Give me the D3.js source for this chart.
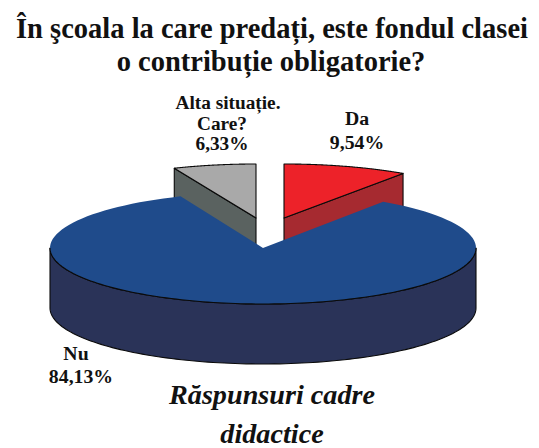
<!DOCTYPE html>
<html><head><meta charset="utf-8">
<style>html,body{margin:0;padding:0;background:#fff}svg{display:block}text{font-family:"Liberation Serif",serif;font-weight:bold;fill:#111;text-anchor:middle}</style>
<script src="https://cdn.jsdelivr.net/npm/d3@7/dist/d3.min.js"></script>
</head><body><svg id="c" width="539" height="448"></svg>
<script>
const categories = ["Da", "Nu", "Alta situație. Care?"];
const values = [9.54, 84.13, 6.33];
const valueLabels = ["9,54%", "84,13%", "6,33%"];
const topColors = ["#ed2229", "#1f4b8b", "#a9a9a9"];
const sideColors = ["#a62a30", "#2a3358", "#5a6260"];
const titleLines = ["În şcoala la care predați, este fondul clasei", "o contribuție obligatorie?"];
const captionLines = ["Răspunsuri cadre", "didactice"];

const svg = d3.select("#c");
const arcs = d3.pie().sort(null).value(d => d)(values);
const rx = 213, ry = 56, depth = 60;
const centers = [[284, 218], [263, 248], [256, 218]];
const radii = [[211, 54], [rx, ry], [211, 54]];
const pt = (i, a, dy = 0) => [centers[i][0] + radii[i][0] * Math.sin(a), centers[i][1] - radii[i][1] * Math.cos(a) + dy];
const line = d3.line();
const sample = (a0, a1) => d3.range(0, 121).map(k => a0 + (a1 - a0) * k / 120);

function sector(i) {
  const a = arcs[i];
  const outer = sample(a.startAngle, a.endAngle).map(t => pt(i, t));
  return line([centers[i], ...outer]) + "Z";
}
function radial(i, ang) {
  const p = pt(i, ang);
  return line([centers[i], p, [p[0], p[1] + depth], [centers[i][0], centers[i][1] + depth]]) + "Z";
}
const stroke = { stroke: "#0a0a0a", "stroke-width": 1.1, "stroke-linejoin": "round" };
function draw(d, fill) {
  const s = svg.append("path").attr("d", d).attr("fill", fill);
  Object.entries(stroke).forEach(([k, v]) => s.attr(k, v));
}
draw(radial(0, arcs[0].endAngle), sideColors[0]);
draw(sector(0), topColors[0]);
draw(radial(2, arcs[2].startAngle), sideColors[2]);
draw(sector(2), topColors[2]);
const wallTop = sample(Math.PI / 2, 3 * Math.PI / 2).map(t => pt(1, t));
const wallBottom = wallTop.slice().reverse().map(p => [p[0], p[1] + depth]);
draw(line([...wallTop, ...wallBottom]) + "Z", sideColors[1]);
svg.append("path").attr("d", sector(1)).attr("fill", topColors[1]);
svg.append("path").attr("d", line(wallTop)).attr("fill", "none").attr("stroke", "#0a0a0a").attr("stroke-width", 1.1);

function label(lines, xs, ys, size, style) {
  const e = svg.append("text").attr("font-size", size);
  if (style) e.attr("font-style", style);
  lines.forEach((t, i) => e.append("tspan").attr("x", xs[i]).attr("y", ys[i]).text(t));
}
label(titleLines, [272, 271], [38, 71], 28.5);
label(["Alta situație.", "Care?", valueLabels[2]], [228, 222, 222], [109, 130, 150], 19.3);
label([categories[0], valueLabels[0]], [357, 357], [125, 149], 19.8);
label([categories[1], valueLabels[1]], [76, 81], [360, 383], 19.8);
label(captionLines, [272, 272], [404, 443], 28.2, "italic");
</script></body></html>
